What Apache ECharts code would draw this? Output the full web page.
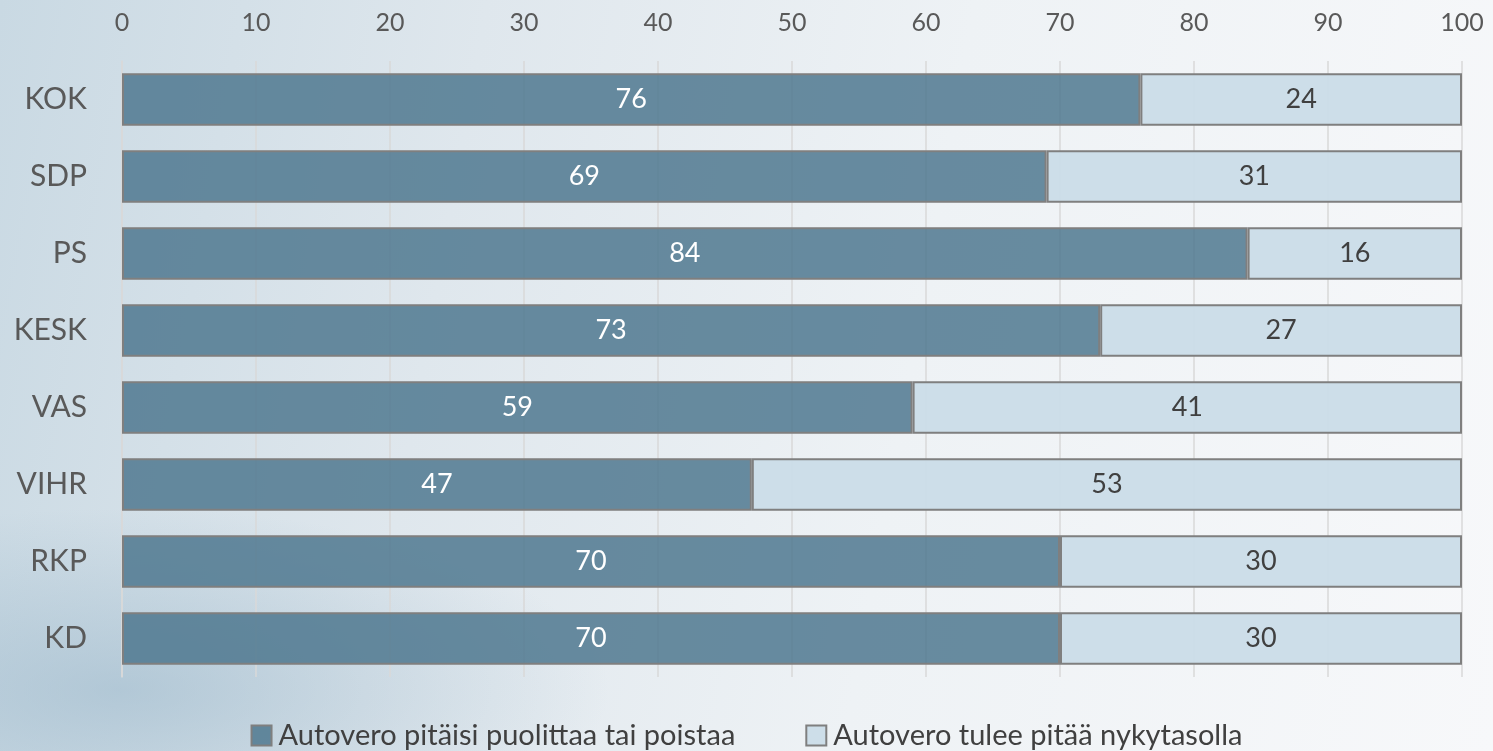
<!DOCTYPE html>
<html>
<head>
<meta charset="utf-8">
<script src="https://cdn.jsdelivr.net/npm/echarts@6/dist/echarts.min.js"></script>
<style>
  html, body { margin: 0; padding: 0; }
  body {
    width: 1493px; height: 751px; overflow: hidden;
    background:
      radial-gradient(ellipse 700px 260px at 120px 690px, rgba(150,180,200,0.55), rgba(150,180,200,0) 70%),
      linear-gradient(100deg, #c9d9e3 0%, #dfe7ed 30%, #eef2f5 60%, #f7f8fa 100%);
  }
  #chart { width: 1493px; height: 751px; }
</style>
</head>
<body>
<div id="chart"></div>
<script>
// puolueet ylhäältä alas
const categories = ['KOK', 'SDP', 'PS', 'KESK', 'VAS', 'VIHR', 'RKP', 'KD'];
const poistaa = [76, 69, 84, 73, 59, 47, 70, 70];
const nykytaso = [24, 31, 16, 27, 41, 53, 30, 30];
const seriesNames = ['Autovero pitäisi puolittaa tai poistaa', 'Autovero tulee pitää nykytasolla'];

const font = 'Lato, "Open Sans", sans-serif';
const chart = echarts.init(document.getElementById('chart'));

chart.setOption({
  backgroundColor: 'transparent',
  textStyle: { fontFamily: font },
  grid: { left: 122, right: 31, top: 61, bottom: 74, containLabel: false },
  xAxis: {
    type: 'value', position: 'top', min: 0, max: 100, interval: 10,
    axisLine: { show: false }, axisTick: { show: false },
    axisLabel: { color: '#595959', fontSize: 25, margin: 26, fontFamily: font },
    splitLine: { show: true, lineStyle: { color: '#d9d9d9', width: 1.5 } }
  },
  yAxis: {
    type: 'category', data: categories, inverse: true,
    axisLine: { show: true, lineStyle: { color: '#d9d9d9', width: 1.5 } },
    axisTick: { show: false },
    axisLabel: { color: '#595959', fontSize: 30, margin: 35, fontFamily: font }
  },
  legend: {
    top: 716, left: 'center', itemWidth: 20, itemHeight: 20, itemGap: 70,
    icon: 'rect',
    textStyle: { color: '#404040', fontSize: 29, fontFamily: font, padding: [0, 0, 0, 2] },
    data: seriesNames
  },
  series: [
    {
      name: seriesNames[0], type: 'bar', stack: 'a', data: poistaa,
      barCategoryGap: '32%',
      itemStyle: { color: 'rgba(79,120,143,0.85)', borderColor: '#7f7f7f', borderWidth: 2 },
      label: { show: true, position: 'inside', color: '#ffffff', fontSize: 27, fontFamily: font }
    },
    {
      name: seriesNames[1], type: 'bar', stack: 'a', data: nykytaso,
      itemStyle: { color: 'rgba(203,221,232,0.97)', borderColor: '#7f7f7f', borderWidth: 2 },
      label: { show: true, position: 'inside', color: '#404040', fontSize: 27, fontFamily: font }
    }
  ]
});
</script>
</body>
</html>
